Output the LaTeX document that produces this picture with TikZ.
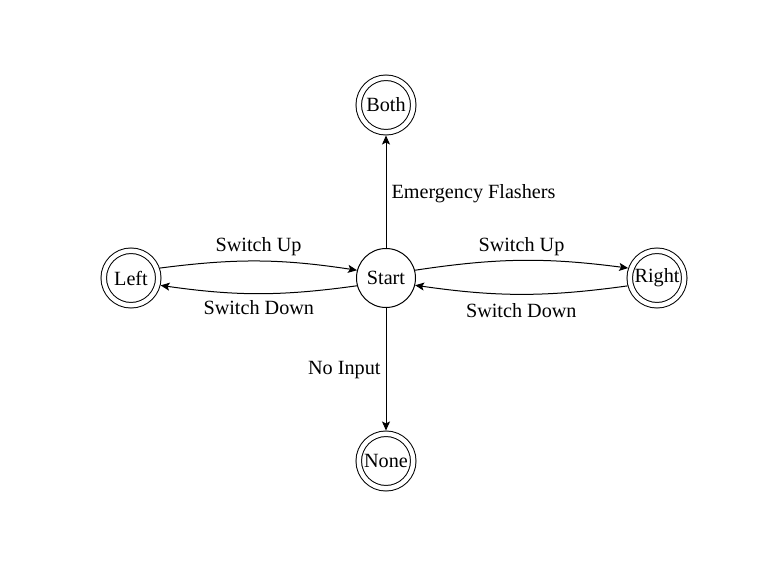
\documentclass[tikz,border=0pt]{standalone}
\usepackage{fontspec}
\setmainfont{Liberation Serif}
\usetikzlibrary{arrows.meta}
\begin{document}
\begin{tikzpicture}[x=1pt,y=-1pt,
  every node/.style={font=\fontsize{20.2}{24}\selectfont},
  statebox/.style={circle,draw,line width=1pt,minimum size=59pt,inner sep=0pt},
  finalbox/.style={circle,draw,line width=1pt,double,double distance=4.5pt,minimum size=54.5pt,inner sep=0pt,outer sep=3.25pt},
  arr/.style={line width=1pt,-{Stealth[length=9pt,width=8pt,inset=2pt]}},
  lbl/.style={inner sep=2pt}]
\useasboundingbox (0,0) rectangle (781,588);
\node[statebox] (S) at (386,278) {Start};
\node[finalbox] (B) at (386,105) {Both};
\node[finalbox] (L) at (131,278) {Left};
\node[finalbox] (R) at (657,278) {Right};
\node[finalbox] (N) at (386,461) {None};
\draw[arr] (S) -- node[lbl,right,inner sep=5pt,yshift=-1.5pt] (eB) {Emergency Flashers} (B);
\draw[arr] (S) -- node[lbl,left,inner sep=5pt,yshift=-1pt] (eN) {No Input} (N);
\draw[arr] (L.19) to[bend left=8] node[lbl,above,inner sep=4.5pt] (eLS) {Switch Up} (S.165);
\draw[arr] (S.195) to[bend left=8] node[lbl,below,inner sep=6pt] (eSL) {Switch Down} (L.346);
\draw[arr] (S.15) to[bend left=8] node[lbl,above,inner sep=4pt] (eSR) {Switch Up} (R.161);
\draw[arr] (R.195) to[bend left=8] node[lbl,below,inner sep=8.5pt] (eRS) {Switch Down} (S.346);
\end{tikzpicture}
\end{document}
